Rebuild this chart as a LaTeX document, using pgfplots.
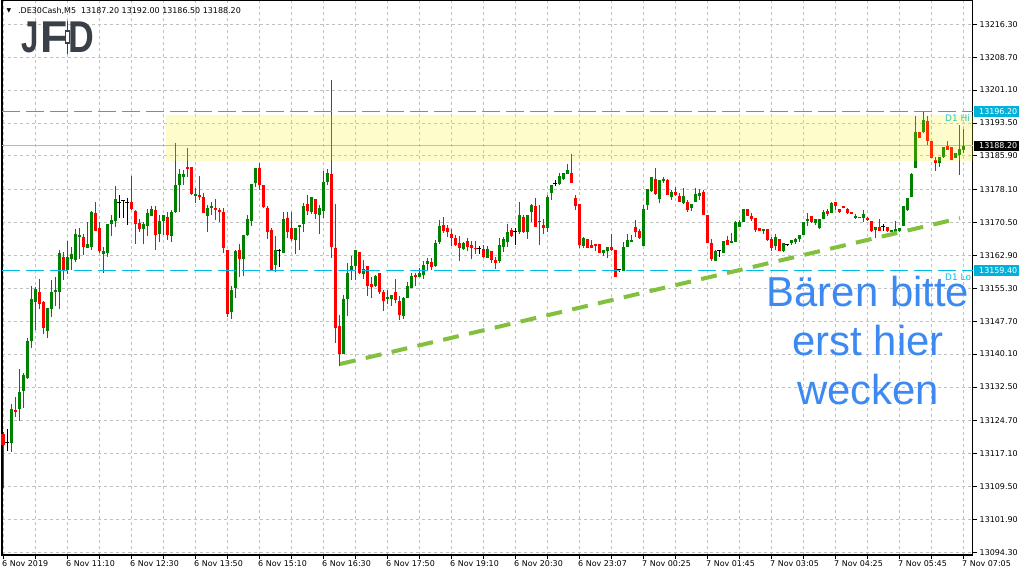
\documentclass[border=0pt]{standalone}
\usepackage{fontspec}
\setmainfont{DejaVu Sans}
\newfontfamily\arialf{Liberation Sans}
\usepackage{graphicx}
\usepackage{pgfplots}
\usepackage{pgfplotstable}
\pgfplotsset{compat=1.18}
\definecolor{cgreen}{RGB}{0,128,0}
\definecolor{cred}{RGB}{255,0,0}
\definecolor{dcyan}{RGB}{0,178,218}
\definecolor{lcyan}{RGB}{0,190,230}
\definecolor{tgreen}{RGB}{130,192,62}
\definecolor{tblue}{RGB}{60,137,242}
\definecolor{logoc}{RGB}{58,64,72}
\definecolor{gridc}{RGB}{192,192,192}

\pgfplotstableread[row sep=\\]{
i O H L C\\
2 13119.6 13128.5 13117.5 13127.4\\
4 13127.3 13136.7 13124.7 13131.3\\
5 13131.6 13135.8 13127.6 13135.3\\
6 13134.5 13143.9 13134.3 13143.1\\
7 13143.1 13155.8 13141.6 13152.8\\
8 13152.2 13155.7 13145.7 13155.1\\
11 13145.4 13150.8 13143.9 13150.8\\
12 13150.6 13157.2 13148.7 13154.5\\
13 13154.5 13158.0 13151.1 13154.9\\
14 13154.5 13164.2 13150.6 13163.5\\
16 13159.5 13166.2 13158.6 13162.5\\
17 13162.1 13164.8 13159.6 13163.2\\
18 13161.9 13168.9 13161.3 13167.8\\
19 13167.2 13169.2 13162.1 13167.6\\
21 13164.7 13170.5 13164.5 13165.5\\
22 13164.9 13173.2 13164.2 13173.0\\
25 13163.3 13164.8 13158.9 13163.9\\
26 13163.5 13170.2 13162.5 13170.2\\
27 13170.2 13172.2 13167.4 13171.0\\
28 13170.9 13178.9 13169.5 13175.9\\
35 13169.1 13170.6 13165.6 13170.2\\
36 13169.8 13173.6 13167.4 13172.6\\
37 13172.1 13174.2 13172.1 13173.6\\
39 13167.8 13172.2 13166.1 13170.8\\
40 13170.9 13172.2 13167.6 13172.2\\
42 13167.4 13173.4 13166.1 13172.9\\
43 13173.0 13188.8 13172.6 13179.2\\
44 13179.2 13182.8 13173.0 13181.7\\
45 13181.1 13182.6 13179.2 13181.7\\
48 13176.7 13178.4 13175.1 13177.1\\
51 13172.1 13174.6 13168.2 13173.9\\
52 13173.9 13175.3 13172.2 13174.3\\
57 13149.9 13155.8 13148.3 13154.9\\
58 13155.3 13164.2 13153.1 13164.0\\
60 13162.1 13167.6 13158.1 13167.6\\
61 13167.6 13172.2 13167.4 13171.3\\
62 13170.9 13179.4 13169.8 13179.4\\
63 13179.7 13183.2 13178.6 13183.2\\
68 13160.7 13167.4 13159.1 13164.2\\
70 13163.5 13173.0 13163.5 13171.3\\
73 13166.5 13169.3 13163.2 13169.2\\
74 13169.5 13169.9 13164.2 13169.9\\
75 13170.2 13174.9 13168.2 13174.3\\
77 13172.9 13176.5 13172.5 13176.5\\
79 13172.2 13174.6 13167.9 13173.9\\
80 13173.2 13182.5 13171.6 13179.9\\
81 13179.9 13182.8 13179.2 13181.9\\
85 13140.1 13153.8 13140.1 13152.8\\
86 13152.8 13161.1 13149.0 13158.8\\
87 13159.4 13162.8 13157.2 13160.4\\
88 13160.4 13164.2 13157.1 13164.2\\
90 13158.6 13161.8 13157.5 13159.8\\
93 13155.8 13158.4 13155.7 13158.1\\
96 13152.8 13154.9 13151.6 13153.3\\
97 13152.8 13153.8 13151.3 13153.8\\
100 13149.0 13153.4 13148.2 13153.0\\
101 13153.0 13156.7 13153.0 13155.8\\
102 13155.4 13158.8 13155.4 13158.1\\
104 13157.8 13159.9 13157.8 13158.8\\
105 13158.4 13161.5 13157.5 13160.7\\
106 13160.8 13162.2 13159.5 13161.6\\
108 13160.5 13166.5 13160.3 13165.8\\
109 13166.0 13171.1 13165.5 13169.7\\
115 13164.4 13166.1 13164.2 13165.8\\
121 13162.4 13165.1 13162.4 13164.4\\
124 13161.7 13166.9 13161.1 13165.3\\
125 13164.9 13167.1 13163.7 13166.8\\
126 13166.1 13170.2 13164.9 13168.3\\
129 13168.4 13175.2 13167.8 13172.2\\
131 13168.4 13172.2 13166.7 13172.2\\
132 13172.9 13174.8 13170.7 13174.5\\
136 13169.2 13176.9 13168.2 13176.4\\
137 13177.4 13179.2 13175.7 13179.2\\
139 13179.3 13181.9 13179.2 13181.3\\
140 13180.6 13182.0 13180.3 13182.0\\
141 13181.8 13184.0 13181.8 13182.6\\
145 13165.1 13167.1 13164.5 13166.9\\
150 13163.4 13164.2 13162.8 13164.1\\
151 13164.0 13164.8 13162.4 13164.8\\
155 13159.3 13166.1 13159.3 13164.9\\
156 13164.9 13167.8 13164.9 13166.5\\
157 13166.0 13167.6 13165.9 13166.5\\
160 13165.1 13174.6 13165.1 13173.6\\
161 13174.6 13178.2 13173.4 13178.2\\
162 13177.8 13181.0 13177.6 13181.0\\
164 13176.0 13180.3 13174.9 13180.3\\
165 13180.2 13181.0 13179.7 13180.6\\
167 13176.5 13178.0 13175.7 13177.6\\
170 13174.9 13178.4 13174.8 13176.6\\
172 13173.8 13174.7 13173.2 13174.7\\
173 13175.3 13178.4 13175.3 13177.1\\
174 13176.6 13178.2 13175.7 13177.3\\
178 13161.7 13164.2 13161.7 13163.8\\
180 13163.5 13166.2 13163.5 13166.2\\
182 13165.8 13168.0 13165.8 13166.2\\
183 13166.1 13170.9 13166.1 13170.7\\
184 13169.5 13171.1 13169.5 13170.7\\
185 13170.7 13173.6 13170.6 13173.6\\
190 13168.5 13169.1 13167.8 13169.1\\
193 13165.1 13167.8 13164.2 13167.1\\
195 13163.9 13165.7 13163.6 13165.7\\
197 13165.7 13166.5 13165.3 13166.5\\
198 13166.1 13167.0 13165.5 13166.7\\
199 13166.7 13167.5 13166.1 13167.5\\
200 13167.6 13170.7 13167.5 13170.7\\
201 13170.9 13172.6 13169.7 13171.4\\
203 13170.3 13171.2 13169.9 13171.2\\
204 13169.2 13171.2 13169.0 13171.2\\
205 13171.2 13173.4 13171.2 13173.0\\
207 13172.6 13175.3 13172.6 13174.9\\
213 13171.6 13172.4 13171.3 13172.1\\
215 13171.6 13173.4 13170.6 13172.4\\
218 13168.8 13169.5 13167.0 13169.5\\
222 13168.4 13168.8 13168.4 13168.8\\
223 13168.4 13170.9 13168.4 13169.0\\
224 13168.5 13169.2 13168.4 13169.2\\
225 13169.8 13174.3 13169.8 13174.3\\
226 13173.4 13176.2 13173.2 13176.1\\
227 13176.5 13181.9 13176.5 13181.7\\
228 13183.2 13195.2 13183.2 13191.5\\
230 13191.3 13196.2 13191.1 13194.2\\
234 13184.2 13185.7 13183.4 13185.7\\
235 13185.6 13188.0 13185.5 13188.0\\
238 13185.5 13186.6 13185.5 13186.6\\
239 13186.1 13193.0 13181.5 13187.5\\
240 13187.2 13192.0 13186.5 13188.2\\
}\bull

\pgfplotstableread[row sep=\\]{
i O H L C\\
0 13121.6 13122.0 13109.1 13119.1\\
3 13127.2 13130.1 13125.6 13126.8\\
9 13154.5 13157.5 13150.5 13151.7\\
10 13152.2 13152.4 13144.8 13146.2\\
15 13162.5 13163.6 13157.3 13159.5\\
20 13167.2 13167.8 13163.0 13164.8\\
23 13172.7 13175.2 13168.5 13168.6\\
24 13169.2 13170.6 13163.5 13163.8\\
32 13175.2 13181.3 13173.4 13173.6\\
33 13173.2 13173.4 13165.6 13170.1\\
34 13170.4 13171.3 13168.4 13169.1\\
38 13173.4 13174.3 13164.2 13167.6\\
41 13171.8 13172.9 13166.5 13167.6\\
46 13183.3 13187.7 13181.1 13182.9\\
47 13183.3 13183.3 13176.9 13177.1\\
49 13176.8 13181.3 13175.7 13176.4\\
50 13176.4 13177.3 13172.8 13172.8\\
53 13173.9 13175.9 13171.1 13173.4\\
54 13173.5 13173.9 13170.7 13173.0\\
55 13172.9 13173.9 13163.4 13164.7\\
56 13164.2 13164.2 13148.7 13149.4\\
59 13164.2 13165.5 13158.0 13162.1\\
64 13183.1 13184.2 13178.0 13179.2\\
65 13179.2 13179.2 13173.9 13174.1\\
66 13173.9 13174.4 13166.7 13168.4\\
67 13168.8 13169.2 13159.5 13159.5\\
71 13171.5 13173.0 13166.9 13168.4\\
72 13169.2 13173.0 13166.2 13166.7\\
76 13174.8 13176.9 13172.2 13173.2\\
78 13175.9 13175.9 13171.3 13172.5\\
82 13181.7 13203.4 13162.2 13164.9\\
83 13164.5 13174.8 13142.7 13146.2\\
84 13146.7 13149.1 13137.4 13140.1\\
89 13163.7 13163.7 13158.6 13158.9\\
91 13160.5 13160.5 13153.6 13155.8\\
92 13156.2 13158.0 13153.1 13155.7\\
94 13158.8 13158.8 13153.9 13154.4\\
95 13154.5 13154.9 13150.1 13152.4\\
98 13154.4 13157.4 13151.8 13152.6\\
99 13152.4 13153.5 13148.0 13149.2\\
103 13158.4 13158.9 13155.8 13158.0\\
107 13161.4 13162.2 13159.5 13160.3\\
110 13169.9 13171.8 13168.0 13168.6\\
111 13169.2 13169.9 13167.1 13168.2\\
112 13167.9 13168.9 13165.1 13167.0\\
113 13166.9 13167.6 13165.1 13165.3\\
114 13165.8 13167.4 13161.6 13164.6\\
116 13166.2 13166.9 13163.8 13164.9\\
117 13165.3 13166.3 13162.0 13164.6\\
118 13164.6 13166.3 13163.2 13164.3\\
120 13164.4 13165.3 13162.2 13162.5\\
122 13163.9 13163.9 13161.1 13161.8\\
123 13161.8 13162.6 13159.7 13161.2\\
127 13168.8 13169.2 13167.1 13167.4\\
130 13171.8 13172.2 13168.0 13168.4\\
133 13174.3 13176.1 13169.5 13169.5\\
134 13170.9 13174.6 13165.3 13170.6\\
135 13169.9 13171.2 13167.8 13169.2\\
142 13181.9 13186.3 13179.7 13179.7\\
143 13176.1 13176.9 13173.4 13174.4\\
144 13174.8 13174.8 13164.5 13165.3\\
146 13166.7 13166.7 13164.5 13164.7\\
147 13165.2 13166.5 13164.7 13164.7\\
148 13165.5 13165.5 13164.0 13165.1\\
149 13165.5 13165.5 13163.4 13163.4\\
152 13164.8 13167.8 13163.9 13164.2\\
153 13164.2 13164.2 13158.0 13158.0\\
158 13169.4 13171.1 13167.2 13168.2\\
159 13168.6 13168.9 13166.6 13166.9\\
163 13180.6 13183.0 13176.9 13177.0\\
166 13180.3 13180.5 13176.9 13176.9\\
168 13177.5 13178.8 13176.7 13176.9\\
169 13176.6 13177.3 13175.2 13175.3\\
171 13175.3 13175.7 13173.0 13173.4\\
175 13177.6 13178.0 13172.2 13172.2\\
176 13172.2 13172.2 13165.7 13165.8\\
177 13165.7 13166.7 13161.7 13162.0\\
181 13166.5 13167.4 13165.3 13165.3\\
186 13173.6 13173.6 13172.1 13172.1\\
187 13172.0 13172.8 13170.9 13171.2\\
188 13171.6 13171.6 13168.2 13168.8\\
189 13169.2 13169.2 13168.6 13168.6\\
191 13168.9 13168.9 13166.2 13166.5\\
192 13166.6 13167.2 13163.9 13164.5\\
194 13166.6 13166.6 13163.9 13163.9\\
202 13172.0 13172.0 13170.3 13170.6\\
206 13173.2 13173.6 13172.1 13172.5\\
208 13175.2 13175.3 13173.4 13174.2\\
209 13173.6 13173.6 13172.8 13173.0\\
210 13174.2 13174.3 13173.8 13173.8\\
211 13173.6 13173.8 13172.5 13172.6\\
212 13173.0 13173.0 13172.4 13172.4\\
214 13171.8 13171.8 13171.5 13171.5\\
216 13171.6 13171.8 13170.9 13171.1\\
217 13170.9 13170.9 13168.4 13168.5\\
219 13169.5 13171.3 13168.6 13168.6\\
221 13169.4 13169.4 13168.4 13168.5\\
229 13191.3 13191.3 13190.0 13190.0\\
231 13194.0 13195.2 13188.4 13189.4\\
232 13189.4 13189.4 13185.3 13185.5\\
233 13184.9 13185.7 13182.4 13184.3\\
236 13188.2 13189.4 13187.3 13187.3\\
237 13188.0 13188.0 13184.9 13184.9\\
}\bear

\pgfplotstableread[row sep=\\]{
i O H L C\\
1 13119.7 13122.7 13117.8 13119.7\\
29 13175.2 13176.9 13171.6 13175.2\\
30 13175.6 13175.7 13171.6 13175.6\\
31 13175.2 13176.1 13170.0 13175.2\\
69 13164.0 13164.4 13160.3 13164.0\\
119 13164.5 13165.1 13163.2 13164.5\\
128 13168.5 13169.2 13165.3 13168.5\\
138 13179.5 13180.3 13178.9 13179.5\\
154 13159.7 13159.7 13159.1 13159.7\\
179 13164.1 13164.1 13162.6 13164.1\\
196 13165.5 13165.5 13165.1 13165.5\\
220 13169.5 13170.1 13168.6 13169.5\\
}\doji

\begin{document}
\begin{tikzpicture}[x=1bp,y=1bp]
\path[use as bounding box] (0,0) rectangle (1024,576);
\fill[white] (0,0) rectangle (1024,576);
\begin{axis}[
  at={(2bp,21bp)}, anchor=south west,
  scale only axis, width=970.5bp, height=555bp,
  xmin=-0.25, xmax=242.375, ymin=13093.68, ymax=13221.91,
  clip=false,
  axis line style={black, line width=1.2bp},
  grid=major,
  major grid style={gridc, line width=0.8bp, dash pattern=on 3bp off 3bp},
  xtick={0,8,...,240},
  xticklabels={6 Nov 2019,,6 Nov 11:10,,6 Nov 12:30,,6 Nov 13:50,,6 Nov 15:10,,6 Nov 16:30,,6 Nov 17:50,,6 Nov 19:10,,6 Nov 20:30,,6 Nov 23:07,,7 Nov 00:25,,7 Nov 01:45,,7 Nov 03:05,,7 Nov 04:25,,7 Nov 05:45,,7 Nov 07:05},
  ytick={13094.3,13101.9,13109.5,13117.1,13124.7,13132.5,13140.1,13147.7,13155.3,13162.9,13170.5,13178.1,13185.9,13193.5,13201.1,13208.7,13216.3},
  scaled y ticks=false,
  xtick pos=left, xticklabel pos=left,
  ytick pos=right, yticklabel pos=right,
  tick align=outside, major tick length=4bp,
  tick style={black, line width=0.8bp},
  tick label style={font=\fontsize{8}{9.6}\selectfont, inner sep=0pt, black},
  xticklabel style={anchor=north west, xshift=-1bp, yshift=-1bp},
  yticklabel style={anchor=west, xshift=3bp, /pgf/number format/.cd, fixed, fixed zerofill, precision=2, 1000 sep={}, assume math mode=true},
]
% bid line
\addplot[gray!55, line width=0.8bp, forget plot] coordinates {(-0.25,13188.2) (242.375,13188.2)};

% wicks
\addplot[draw=none, forget plot, error bars/.cd, y dir=plus, y explicit, error mark=none,
  error bar style={draw=cgreen, line width=1bp}]
  table[x=i, y=L, y error plus expr=\thisrow{H}-\thisrow{L}] {\bull};
\addplot[draw=none, forget plot, error bars/.cd, y dir=plus, y explicit, error mark=none,
  error bar style={draw=cred, line width=1bp}]
  table[x=i, y=L, y error plus expr=\thisrow{H}-\thisrow{L}] {\bear};
\addplot[draw=none, forget plot, error bars/.cd, y dir=plus, y explicit, error mark=none,
  error bar style={draw=black, line width=1bp}]
  table[x=i, y=L, y error plus expr=\thisrow{H}-\thisrow{L}] {\doji};
% bodies
\addplot[draw=none, forget plot, error bars/.cd, y dir=plus, y explicit, error mark=none,
  error bar style={draw=cgreen, line width=3bp}]
  table[x=i, y=O, y error plus expr=\thisrow{C}-\thisrow{O}] {\bull};
\addplot[draw=none, forget plot, error bars/.cd, y dir=plus, y explicit, error mark=none,
  error bar style={draw=cred, line width=3bp}]
  table[x=i, y=C, y error plus expr=\thisrow{O}-\thisrow{C}] {\bear};
\addplot[only marks, forget plot, mark=-, mark size=2bp, mark options={draw=black, line width=1bp}]
  table[x=i, y=O] {\doji};

% D1 lines
\addplot[lcyan, line width=1bp, dash pattern=on 18bp off 6bp, forget plot] coordinates {(-0.25,13196.2) (242.375,13196.2)};
\addplot[lcyan, line width=1bp, dash pattern=on 18bp off 6bp, forget plot] coordinates {(-0.25,13159.4) (242.375,13159.4)};

% trend line
\addplot[tgreen, line width=4bp, dash pattern=on 16bp off 10.5bp, forget plot] coordinates {(84.25,13137.8) (239.25,13171.5)};

\node[anchor=west, inner sep=0pt, font=\fontsize{9}{9}\selectfont, text=lcyan] at (axis cs:235.5,13194.6) {D1 Hi};
\node[anchor=west, inner sep=0pt, font=\fontsize{9}{9}\selectfont, text=lcyan] at (axis cs:235.5,13157.9) {D1 Lo};

% yellow zone
\addplot[draw=none, fill=yellow, fill opacity=0.2, forget plot] coordinates {(40.75,13184.8) (242.375,13184.8) (242.375,13195.3) (40.75,13195.3)};

% price boxes
\node[anchor=west, fill=dcyan, text=white, inner sep=0pt, minimum height=10.5bp, font=\fontsize{8}{9.6}\selectfont, xshift=1.5bp] at (axis cs:242.375,13196.2) {\hspace*{5bp}13196.20\hspace*{2bp}};
\node[anchor=west, fill=black, text=white, inner sep=0pt, minimum height=10.5bp, font=\fontsize{8}{9.6}\selectfont, xshift=1.5bp] at (axis cs:242.375,13188.2) {\hspace*{5bp}13188.20\hspace*{2bp}};
\node[anchor=west, fill=dcyan, text=white, inner sep=0pt, minimum height=10.5bp, font=\fontsize{8}{9.6}\selectfont, xshift=1.5bp] at (axis cs:242.375,13159.4) {\hspace*{5bp}13159.40\hspace*{2bp}};
\end{axis}

% header
\node[anchor=base west, inner sep=0pt, font=\fontsize{6}{6}\selectfont] at (6.5,576-12.5) {▼};
\node[anchor=base west, inner sep=0pt, font=\fontsize{8}{9.6}\selectfont] at (18,576-13.5) {.DE30Cash,M5\hspace{5bp}13187.20 13192.00 13186.50 13188.20};

% logo
\node[anchor=base, inner sep=0pt, text=logoc, font=\arialf\bfseries\fontsize{44.7}{44.7}\selectfont] at (30,576-53) {\scalebox{0.7}[1]{J}};
\node[anchor=base, inner sep=0pt, text=logoc, font=\arialf\bfseries\fontsize{44.7}{44.7}\selectfont] at (54,576-53) {\scalebox{1}[1]{F}};
\node[anchor=base, inner sep=0pt, text=logoc, font=\arialf\bfseries\fontsize{44.7}{44.7}\selectfont] at (81.5,576-53) {\scalebox{0.8}[1]{D}};
\draw[logoc, line width=1.3bp] (67.5,576-21) -- (67.5,576-54);
\draw[logoc, fill=white, line width=1.3bp] (65.5,576-31) rectangle (69.5,576-43);

% annotation
\node[anchor=base, inner sep=0pt, text=tblue, font=\arialf\fontsize{42}{42}\selectfont] at (868,576-307) {Bären bitte};
\node[anchor=base, inner sep=0pt, text=tblue, font=\arialf\fontsize{42}{42}\selectfont] at (868,576-356) {erst hier};
\node[anchor=base, inner sep=0pt, text=tblue, font=\arialf\fontsize{42}{42}\selectfont] at (868,576-405) {wecken};
\end{tikzpicture}
\end{document}
